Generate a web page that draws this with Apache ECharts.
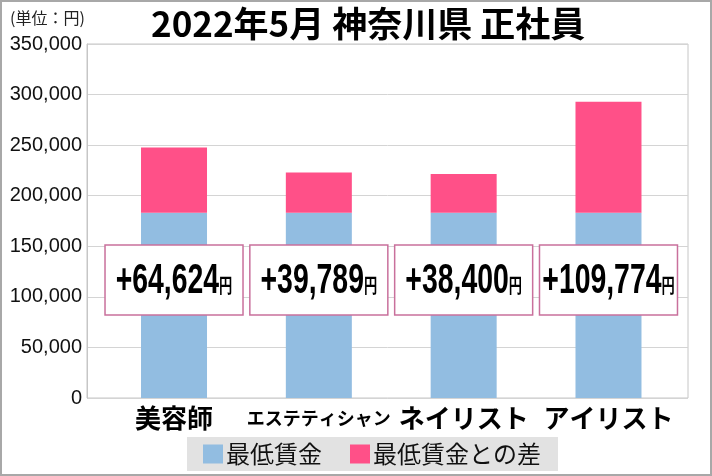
<!DOCTYPE html>
<html><head><meta charset="utf-8">
<script src="https://cdn.jsdelivr.net/npm/echarts@6/dist/echarts.min.js"></script>
<style>html,body{margin:0;padding:0;background:#fff}#c{width:712px;height:476px}</style>
</head><body><div id="c"></div>
<script>
const categories = ['美容師', 'エステティシャン', 'ネイリスト', 'アイリスト'];
const minimumWage = [183040, 183040, 183040, 183040];
const differenceFromMinimum = [64624, 39789, 38400, 109774];
const yTicks = [0, 50000, 100000, 150000, 200000, 250000, 300000, 350000];
const seriesNames = ['最低賃金', '最低賃金との差'];

const BLUE = '#92bde1', PINK = '#ff5088';
const JP = '"Noto Sans CJK JP", sans-serif';
const LAT = '"Liberation Sans", Arial, sans-serif';

const chart = echarts.init(document.getElementById('c'), null, {renderer: 'canvas'});
const fmt = v => v.toLocaleString('en-US');

const option = {
  animation: false,
  backgroundColor: '#fff',
  title: [
    {text: '2022年5月 神奈川県 正社員', left: 146, top: 1,
     textStyle: {fontFamily: JP, fontWeight: 'bold', fontSize: 35, color: '#000'}},
    {text: '(単位：円)', left: 5, top: 5,
     textStyle: {fontFamily: JP, fontWeight: 'normal', fontSize: 16, color: '#222'}}
  ],
  legend: {
    data: seriesNames, left: 187, top: 437, orient: 'horizontal',
    backgroundColor: '#e2e2e2', padding: [5, 17, 5, 16], itemGap: 28,
    itemWidth: 20, itemHeight: 19, icon: 'rect',
    textStyle: {fontFamily: JP, fontSize: 24, color: '#111', padding: [0, 0, 0, -2]}
  },
  grid: [
    {left: 87, right: 24, top: 44, bottom: 78, show: true, borderColor: '#c6c6c6', borderWidth: 1, backgroundColor: 'transparent'},
    {left: 101.6, right: 31.1, top: 44, bottom: 78}
  ],
  xAxis: [
    {gridIndex: 0, type: 'value', show: false, min: 0, max: 1},
    {gridIndex: 1, type: 'category', data: categories,
     axisLine: {show: false}, axisTick: {show: false},
     axisLabel: {interval: 0, margin: 5, color: '#000',
       formatter: v => v.length > 5 ? '{s|' + v + '}' : '{n|' + v + '}',
       rich: {
         n: {fontFamily: JP, fontWeight: 'bold', fontSize: 26, color: '#000', lineHeight: 30},
         s: {fontFamily: JP, fontWeight: 'bold', fontSize: 18, color: '#000', lineHeight: 30}
       }}}
  ],
  yAxis: [
    {gridIndex: 0, type: 'value', min: yTicks[0], max: yTicks[yTicks.length - 1], interval: yTicks[1] - yTicks[0],
     axisLine: {show: true, lineStyle: {color: '#c6c6c6'}}, axisTick: {show: false},
     splitLine: {lineStyle: {color: '#d4d4d4', width: 1}},
     axisLabel: {formatter: v => fmt(v), fontFamily: LAT, fontSize: 20, color: '#111', margin: 5}},
    {gridIndex: 1, type: 'value', min: yTicks[0], max: yTicks[yTicks.length - 1], show: false, splitLine: {show: false}}
  ],
  series: [
    {name: seriesNames[0], type: 'bar', stack: 'w', xAxisIndex: 1, yAxisIndex: 1,
     barWidth: 66, itemStyle: {color: BLUE}, data: minimumWage},
    {name: seriesNames[1], type: 'bar', stack: 'w', xAxisIndex: 1, yAxisIndex: 1,
     barWidth: 66, itemStyle: {color: PINK}, data: differenceFromMinimum},
    {name: 'diffLabel', type: 'custom', xAxisIndex: 1, yAxisIndex: 1, z: 10, silent: true,
     data: differenceFromMinimum.map((d, i) => [i, d]),
     renderItem: (params, api) => {
       const base = api.coord([api.value(0), 0]);
       const cx = base[0], cy = base[1] - 118;
       const w = 138, h = 70;
       return {
         type: 'group',
         children: [
           {type: 'rect', shape: {x: cx - w / 2, y: cy - h / 2, width: w, height: h},
            style: {fill: '#fff', stroke: '#c9709c', lineWidth: 1.5}},
           {type: 'text', x: cx, y: cy + 1, scaleX: 0.66, scaleY: 1, originX: 0, originY: 0,
            style: {text: '{a|+' + fmt(api.value(1)) + '}{b|円}', align: 'center', verticalAlign: 'middle',
              rich: {
                a: {fontFamily: LAT, fontWeight: 'bold', fontSize: 43, fill: '#000', lineHeight: 46},
                b: {fontFamily: JP, fontWeight: 'bold', fontSize: 20, fill: '#000', lineHeight: 24, padding: [0, 0, 9, 0], verticalAlign: 'bottom'}
              }}}
         ]
       };
     }}
  ],
  graphic: [
    {type: 'rect', silent: true, z: 100, shape: {x: 1, y: 1, width: 710, height: 474},
     style: {fill: 'none', stroke: '#a8a8a8', lineWidth: 2}}
  ]
};
chart.setOption(option);
</script></body></html>
